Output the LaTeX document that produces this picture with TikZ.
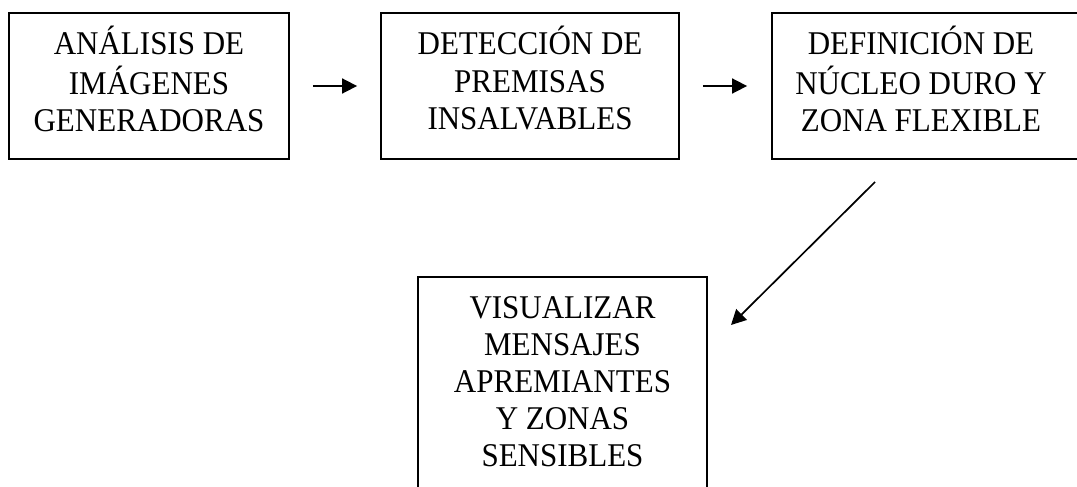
\documentclass[tikz,border=0pt]{standalone}
\usepackage{fontspec}
\setmainfont{Liberation Serif}
\usetikzlibrary{arrows.meta}
\newcommand{\tallt}[1]{\scalebox{1}[1.07]{\begin{tabular}[t]{@{}c@{}}#1\end{tabular}}}
\begin{document}
\begin{tikzpicture}[x=1pt,y=-1pt,
  box/.style={draw=black,line width=1.8pt,rectangle,inner sep=0pt},
  txt/.style={inner sep=0pt,anchor=base,font=\fontsize{31}{34.6}\selectfont},
  conn/.style={line width=1.7pt,-{Triangle[length=15pt,width=15pt]}}]
\useasboundingbox (0,0) rectangle (1077,487);
\clip (0,0) rectangle (1077,487);
\node[box,minimum width=280pt,minimum height=146pt] (b1) at (149,86) {};
\node[box,minimum width=298pt,minimum height=146pt] (b2) at (530,86) {};
\node[box,minimum width=310pt,minimum height=146pt] (b3) at (927,86) {};
\node[box,minimum width=289pt,minimum height=223pt] (b4) at (562.5,388.5) {};
\node[txt] (t1) at (149,55) {\tallt{ANÁLISIS DE\\IMÁGENES\\GENERADORAS}};
\node[txt] (t2) at (530,55) {\tallt{DETECCIÓN DE\\PREMISAS\\INSALVABLES}};
\node[txt] (t3) at (921,55) {\tallt{DEFINICIÓN DE\\NÚCLEO DURO Y\\ZONA FLEXIBLE}};
\node[txt] (t4) at (562.5,318) {\tallt{VISUALIZAR\\MENSAJES\\APREMIANTES\\Y ZONAS\\SENSIBLES}};
\coordinate (d1) at (875,182);
\coordinate (d2) at (731,325);
\draw[conn,shorten <=23pt,shorten >=23pt] (b1.east) -- (b2.west);
\draw[conn,shorten <=23pt,shorten >=24pt] (b2.east) -- (b3.west);
\draw[conn] (d1) -- (d2);
\end{tikzpicture}
\end{document}
